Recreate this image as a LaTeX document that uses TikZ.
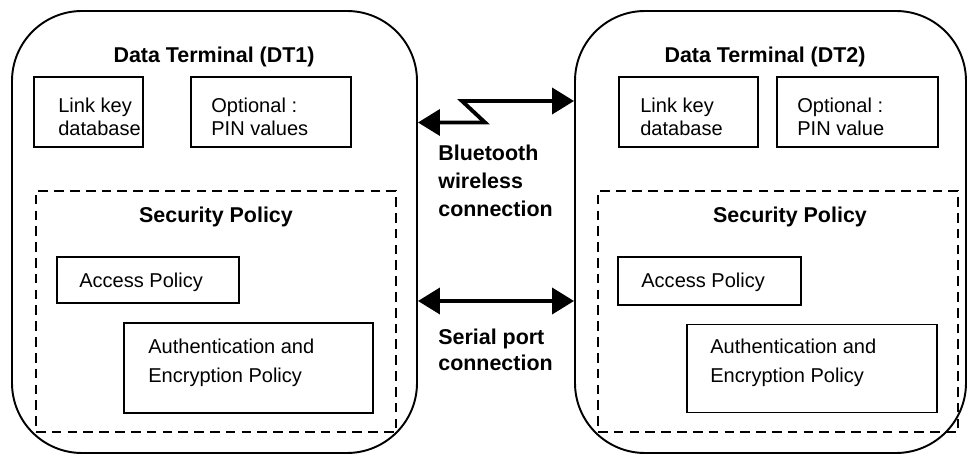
\documentclass[tikz,border=0pt]{standalone}
\usepackage{fontspec}
\setmainfont{Liberation Sans}
\usepackage{tikz}
\usetikzlibrary{arrows.meta}
\tikzstyle{terminal}=[draw, rectangle, line width=1.1pt, rounded corners=1.4cm, inner sep=0pt]
\tikzstyle{box}=[draw, rectangle, line width=1pt, inner sep=0pt]
\tikzstyle{policy}=[draw, rectangle, line width=1pt, dash pattern=on 5.5pt off 3.5pt, inner sep=0pt]
\tikzstyle{title}=[font=\bfseries\fontsize{12.2}{14.6}\selectfont]
\tikzstyle{txt}=[anchor=west, align=left, inner sep=0pt, font=\fontsize{11.4}{13.1}\selectfont]
\tikzstyle{basic arrow}=[line width=2.2pt, miter limit=4, arrows={Triangle[length=4.4mm,width=5.2mm]-Triangle[length=4.4mm,width=5.2mm]}]

\begin{document}
\begin{tikzpicture}
		\useasboundingbox (0, 0) rectangle (19.36, 9.12);

		\node [style=terminal, minimum width=8.1cm, minimum height=8.84cm]  (0) at (4.29, 4.48) {};
		\node [style=terminal, minimum width=7.82cm, minimum height=8.84cm] (1) at (15.41, 4.48) {};
		\node [style=title]    (2) at (4.28, 7.98) {Data Terminal (DT1)};
		\node [style=title]    (3) at (15.3, 7.98) {Data Terminal (DT2)};

		\node [style=box, minimum width=2.18cm, minimum height=1.4cm]  (4) at (1.77, 6.88) {};
		\node [style=txt]      (5) at (1.16, 6.79) {Link key\\database};
		\node [style=box, minimum width=3.2cm, minimum height=1.4cm]   (6) at (5.42, 6.88) {};
		\node [style=txt]      (7) at (4.22, 6.79) {Optional :\\PIN values};
		\node [style=box, minimum width=2.78cm, minimum height=1.4cm]  (8) at (13.77, 6.88) {};
		\node [style=txt]      (9) at (12.8, 6.79) {Link key\\database};
		\node [style=box, minimum width=3.22cm, minimum height=1.4cm]  (10) at (17.15, 6.88) {};
		\node [style=txt]      (11) at (15.94, 6.79) {Optional :\\PIN value};

		\node [style=policy, minimum width=7.2cm, minimum height=4.82cm] (12) at (4.32, 2.89) {};
		\node [style=policy, minimum width=7.2cm, minimum height=4.82cm] (13) at (15.56, 2.89) {};
		\node [style=title]    (14) at (4.32, 4.78) {Security Policy};
		\node [style=title]    (15) at (15.8, 4.78) {Security Policy};

		\node [style=box, minimum width=3.64cm, minimum height=0.92cm] (16) at (2.96, 3.52) {};
		\node [style=txt]      (17) at (1.58, 3.48) {Access Policy};
		\node [style=box, minimum width=3.66cm, minimum height=0.96cm] (18) at (14.19, 3.50) {};
		\node [style=txt]      (19) at (12.82, 3.48) {Access Policy};
		\node [style=box, minimum width=4.98cm, minimum height=1.8cm]  (20) at (4.97, 1.76) {};
		\node [style=txt, font=\fontsize{11.4}{16.5}\selectfont] (21) at (2.96, 1.87) {Authentication and\\Encryption Policy};
		\node [style=box, minimum width=5cm, minimum height=1.76cm]    (22) at (16.24, 1.75) {};
		\node [style=txt, font=\fontsize{11.4}{16.5}\selectfont] (23) at (14.2, 1.87) {Authentication and\\Encryption Policy};

		\node [style=txt, font=\bfseries\fontsize{12.2}{16}\selectfont]   (24) at (8.76, 5.5) {Bluetooth\\wireless\\connection};
		\node [style=txt, font=\bfseries\fontsize{12.2}{14.8}\selectfont] (25) at (8.76, 2.12) {Serial port\\connection};

		\coordinate (s) at (10, 3.10);
		\coordinate (b1) at (10, 6.67);
		\coordinate (b2) at (10, 7.10);

		\draw [style=basic arrow] (0.east |- b1) -- (9.70, 6.67) -- (9.24, 7.10) -- (1.west |- b2);
		\draw [style=basic arrow] (0.east |- s) to (1.west |- s);

\end{tikzpicture}
\end{document}
